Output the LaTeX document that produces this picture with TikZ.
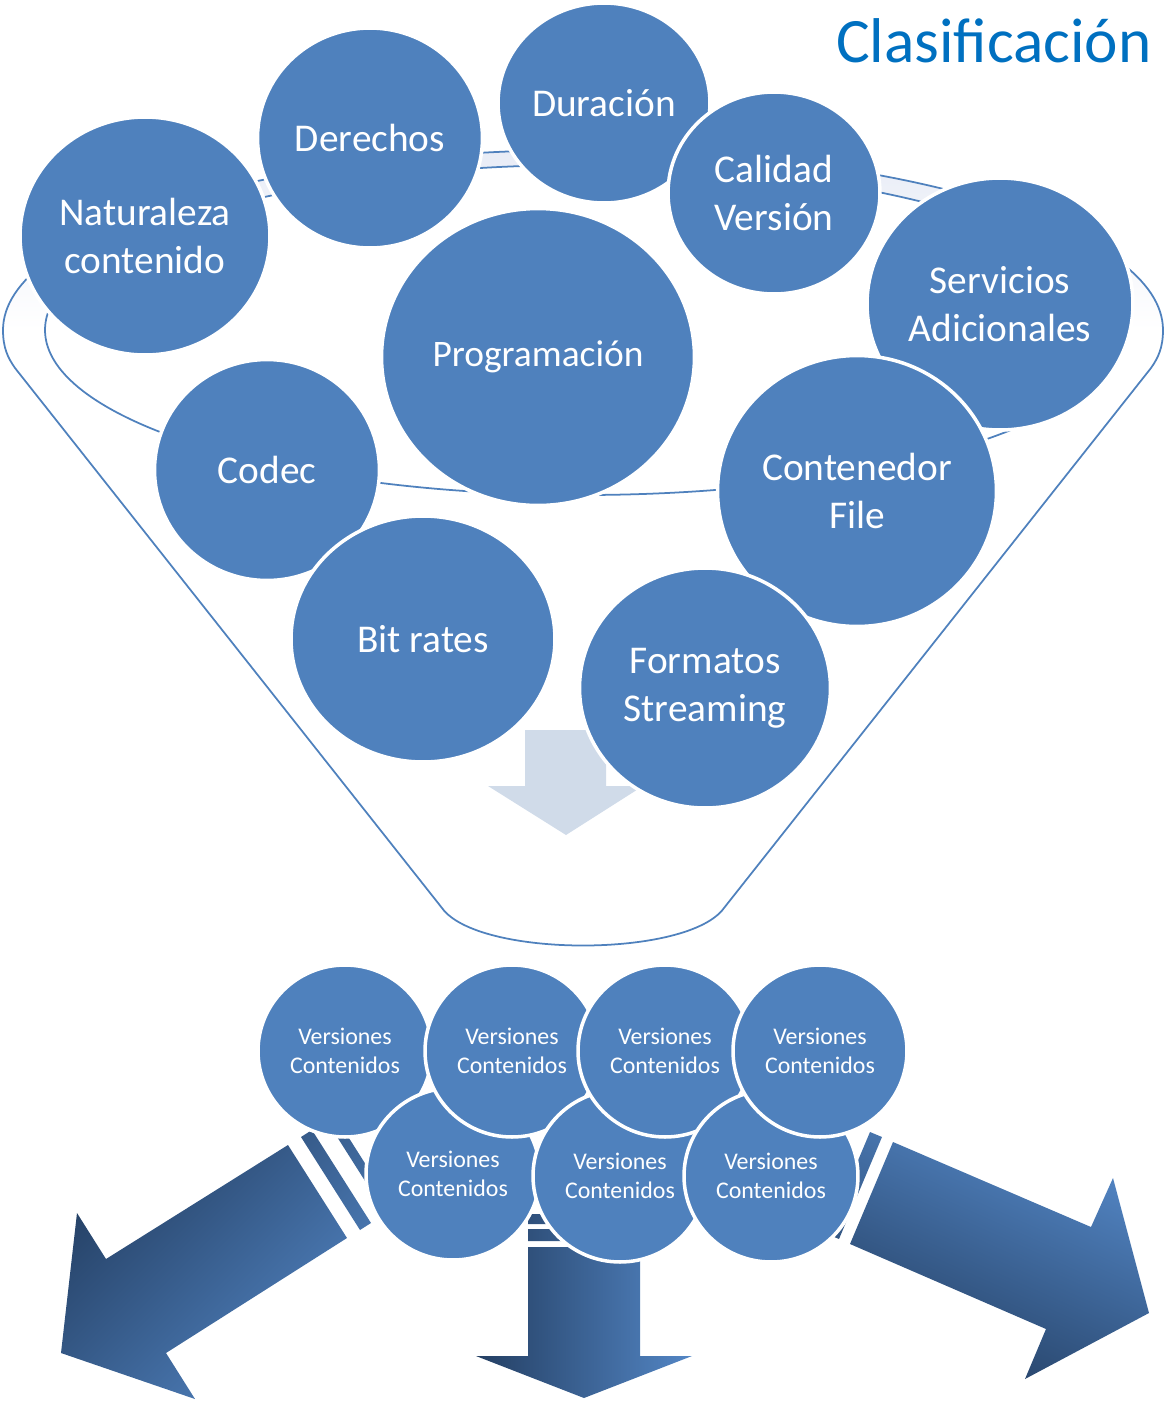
\documentclass[tikz,border=0pt]{standalone}
\usepackage{fontspec}
\setmainfont{Carlito}
\usepackage{xcolor}
\usetikzlibrary{shapes.geometric}

\definecolor{bubblue}{HTML}{4F81BD}
\definecolor{titleblue}{HTML}{0070C0}
\definecolor{rimfill}{HTML}{E8ECF6}
\definecolor{pourfill}{HTML}{D0DBE9}
\definecolor{arrdark}{HTML}{243F63}
\definecolor{arrlight}{HTML}{5386C5}

\begin{document}
\begin{tikzpicture}[
    x=0.02cm, y=0.02cm,
    bubble/.style={ellipse, draw=white, line width=2pt, fill=bubblue, text=white, inner sep=0pt, align=center, font=\fontsize{22.4}{27.2}\selectfont},
    version/.style={bubble, minimum width=3.48cm, minimum height=3.44cm, font=\fontsize{13.6}{16.4}\selectfont},
    funnel/.style={draw=bubblue, line width=1pt},
    bigarrow/.style={top color=arrdark, bottom color=arrlight}
]
\useasboundingbox (0,0) rectangle (1164,-1401);

% funnel
\shade[top color=rimfill, bottom color=white] (1163,-330) arc[start angle=0, end angle=180, x radius=580, y radius=180] -- (45,-330) arc[start angle=180, end angle=0, x radius=538, y radius=165] -- cycle;
\draw[funnel] (3,-330) .. controls (3,-348) and (8,-358) .. (15,-368) -- (442,-908) .. controls (478,-958) and (688,-958) .. (724,-908) -- (1151,-368) .. controls (1158,-358) and (1163,-348) .. (1163,-330) arc[start angle=0, end angle=180, x radius=580, y radius=180] -- cycle;
\draw[funnel] (583,-330) ellipse[x radius=538, y radius=165];
\fill[pourfill] (525,-730) -- (606,-730) -- (606,-786) -- (643,-786) -- (566,-835) -- (488,-786) -- (525,-786) -- cycle;

\node[anchor=base east, text=titleblue, font=\fontsize{36}{43}\selectfont, inner sep=0pt] (title) at (1152,-62) {Clasificación};

\node[bubble, minimum width=5cm, minimum height=4.76cm] (naturaleza) at (145,-236) {Naturaleza\\contenido};
\node[bubble, minimum width=4.5cm, minimum height=4.4cm] (derechos) at (370,-138) {Derechos};
\node[bubble, minimum width=4.24cm, minimum height=4cm] (duracion) at (604,-103) {Duración};
\node[bubble, minimum width=4.24cm, minimum height=4.04cm] (calidad) at (774,-193) {Calidad\\Versión};
\node[bubble, minimum width=5.32cm, minimum height=5.04cm] (servicios) at (1000,-304) {Servicios\\Adicionales};
\node[bubble, minimum width=5.58cm, minimum height=5.42cm] (contenedor) at (857,-491) {Contenedor\\File};
\node[bubble, minimum width=5.02cm, minimum height=4.8cm] (formatos) at (705,-688) {Formatos\\Streaming};
\node[bubble, minimum width=4.5cm, minimum height=4.42cm] (codec) at (267,-470) {Codec};
\node[bubble, minimum width=5.28cm, minimum height=4.92cm] (bitrates) at (423,-639) {Bit rates};
\node[bubble, minimum width=6.26cm, minimum height=5.94cm, font=\fontsize{21.3}{26}\selectfont] (programacion) at (538,-357) {Programación};

% output arrows
\shade[bigarrow, shading angle=45] (288,-1145) -- (106,-1259) -- (77,-1213) -- (61,-1353) -- (195,-1399) -- (166,-1353) -- (347,-1238) -- cycle
    (301,-1137) -- (312,-1130) -- (371,-1223) -- (360,-1230) -- cycle
    (327,-1121) -- (335,-1116) -- (394,-1209) -- (386,-1214) -- cycle;
\shade[bigarrow, shading angle=90] (528,-1247) -- (640,-1247) -- (640,-1356) -- (692,-1356) -- (584,-1398) -- (476,-1356) -- (528,-1356) -- cycle
    (528,-1229) rectangle (640,-1241)
    (528,-1214) rectangle (640,-1224);
\shade[bigarrow, shading angle=156] (893,-1142) -- (1091,-1227) -- (1113,-1178) -- (1149,-1313) -- (1025,-1379) -- (1046,-1329) -- (850,-1244) -- cycle
    (882,-1137) -- (870,-1132) -- (827,-1234) -- (839,-1239) -- cycle;

\node[version] (ver1) at (345,-1051) {Versiones\\Contenidos};
\node[version] (ver5) at (453,-1174) {Versiones\\Contenidos};
\node[version] (ver2) at (512,-1051) {Versiones\\Contenidos};
\node[version] (ver6) at (620,-1176) {Versiones\\Contenidos};
\node[version] (ver3) at (665,-1051) {Versiones\\Contenidos};
\node[version] (ver7) at (771,-1176) {Versiones\\Contenidos};
\node[version] (ver4) at (820,-1051) {Versiones\\Contenidos};

\end{tikzpicture}
\end{document}
